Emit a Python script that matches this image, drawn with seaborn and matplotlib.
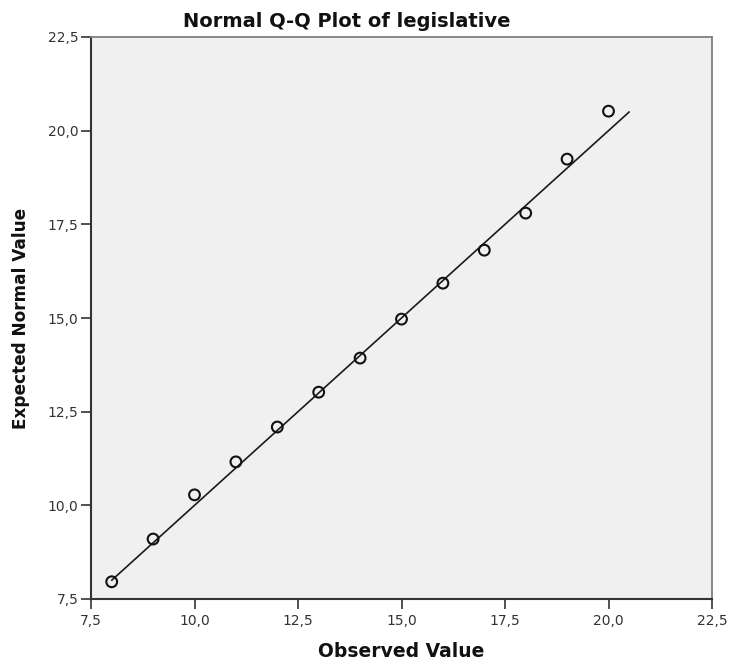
import matplotlib
matplotlib.use("Agg")
import matplotlib.pyplot as plt
import seaborn as sns
import numpy as np
import pandas as pd
from matplotlib.ticker import FuncFormatter

observed = [8, 9, 10, 11, 12, 13, 14, 15, 16, 17, 18, 19, 20]
expected = [7.96, 9.10, 10.28, 11.16, 12.09, 13.02, 13.93, 14.97, 15.93, 16.81, 17.80, 19.24, 20.52]
line_x = [8.0, 20.5]
ticks = [7.5, 10.0, 12.5, 15.0, 17.5, 20.0, 22.5]

sns.set_theme(style="white")
plt.rcParams['font.family'] = ['DejaVu Sans']

fig = plt.figure(figsize=(7.31, 6.62), dpi=100)
ax = fig.add_axes([91/731, 1-599/662, (712-91)/731, (599-37)/662])
ax.set_facecolor("#f0f0f0")

df = pd.DataFrame({"Observed Value": observed, "Expected Normal Value": expected})
sns.lineplot(x=line_x, y=line_x, ax=ax, color="#1a1a1a", linewidth=1.2)
sns.scatterplot(data=df, x="Observed Value", y="Expected Normal Value", ax=ax,
                s=60, facecolor="none", edgecolor="#111111", linewidth=1.5, zorder=3)

ax.set_xlim(7.5, 22.5)
ax.set_ylim(7.5, 22.5)
ax.set_xticks(ticks)
ax.set_yticks(ticks)
fmt = FuncFormatter(lambda v, p: f"{v:.1f}".replace(".", ","))
ax.xaxis.set_major_formatter(fmt)
ax.yaxis.set_major_formatter(fmt)
ax.tick_params(axis="both", direction="out", length=7, width=1.2, color="#333333",
               labelsize=10, labelcolor="#333333", bottom=True, left=True)
ax.tick_params(axis="x", pad=4)
ax.tick_params(axis="y", pad=2)

for side in ["left", "bottom"]:
    ax.spines[side].set_color("#333333")
    ax.spines[side].set_linewidth(1.5)
for side in ["top", "right"]:
    ax.spines[side].set_color("#808080")
    ax.spines[side].set_linewidth(1.3)

ax.set_xlabel("Observed Value", fontsize=13.5, fontweight="bold", color="#111111", labelpad=10)
ax.set_ylabel("Expected Normal Value", fontsize=12.2, fontweight="bold", color="#111111", labelpad=13)
ax.set_title("Normal Q-Q Plot of legislative", fontsize=14, fontweight="bold", color="#111111",
             pad=7, x=(347-91)/621)

fig.savefig("out.png", dpi=100, facecolor="white")
